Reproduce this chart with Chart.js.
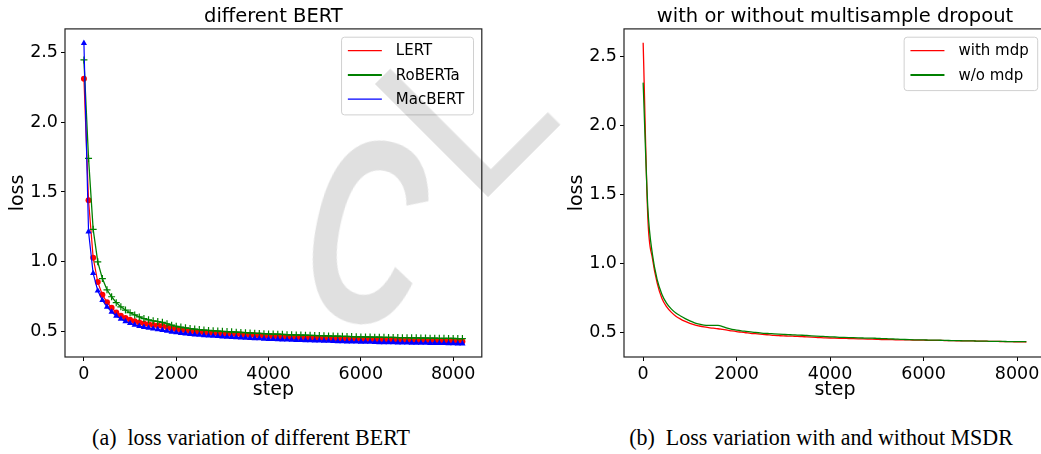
<!DOCTYPE html>
<html>
<head>
<meta charset="utf-8">
<script src="https://cdn.jsdelivr.net/npm/chart.js@4.4.1/dist/chart.umd.min.js"></script>
<style>
  html, body { margin: 0; padding: 0; background: #fff; overflow: hidden; }
  body { width: 1041px; height: 454px; position: relative; }
  canvas { position: absolute; top: 0; }
  #chartA { left: 0; }
  #chartB { left: 559px; }
  .caption { position: absolute; top: 424px; font: 24px "Liberation Serif", serif; color: #000; white-space: pre;
             transform: translateX(-50%) scaleX(0.915); }
  .wm { position: absolute; font-family: "Liberation Sans", sans-serif; line-height: 1; color: #e0e0e0;
        white-space: pre; mix-blend-mode: multiply; pointer-events: none; }
  #wmC { left: 368px; top: 232px; font-size: 262px; font-weight: bold; transform: translate(-50%, -50%) rotate(12deg) scaleX(0.62); }
  #wmL { left: 336px; top: 72px; font-size: 232px; transform-origin: 0 0; transform: rotate(-45deg); }
</style>
</head>
<body>
<canvas id="chartA" width="487" height="410"></canvas>
<canvas id="chartB" width="487" height="410"></canvas>
<div class="caption" style="left:251px">(a)  loss variation of different BERT</div>
<div class="caption" style="left:821px">(b)  Loss variation with and without MSDR</div>
<div class="wm" id="wmC">C</div>
<div class="wm" id="wmL">L</div>
<script>
// training steps (logged every 100 steps)
const steps = [
  0, 100, 200, 300, 400, 500, 600, 700, 800, 900,
  1000, 1100, 1200, 1300, 1400, 1500, 1600, 1700, 1800, 1900,
  2000, 2100, 2200, 2300, 2400, 2500, 2600, 2700, 2800, 2900,
  3000, 3100, 3200, 3300, 3400, 3500, 3600, 3700, 3800, 3900,
  4000, 4100, 4200, 4300, 4400, 4500, 4600, 4700, 4800, 4900,
  5000, 5100, 5200, 5300, 5400, 5500, 5600, 5700, 5800, 5900,
  6000, 6100, 6200, 6300, 6400, 6500, 6600, 6700, 6800, 6900,
  7000, 7100, 7200, 7300, 7400, 7500, 7600, 7700, 7800, 7900,
  8000, 8100, 8200
];

// (a) different BERT
const lert = [
  2.31, 1.44, 1.03, 0.855, 0.765, 0.71, 0.672, 0.638, 0.615, 0.598,
  0.585, 0.575, 0.566, 0.559, 0.553, 0.548, 0.545, 0.540, 0.532, 0.523,
  0.517, 0.512, 0.508, 0.504, 0.500, 0.497, 0.495, 0.492, 0.490, 0.488,
  0.486, 0.484, 0.483, 0.481, 0.480, 0.478, 0.476, 0.474, 0.472, 0.470,
  0.468, 0.466, 0.464, 0.463, 0.461, 0.460, 0.458, 0.457, 0.456, 0.455,
  0.453, 0.452, 0.451, 0.450, 0.449, 0.448, 0.447, 0.446, 0.445, 0.444,
  0.443, 0.442, 0.442, 0.441, 0.440, 0.440, 0.439, 0.438, 0.438, 0.437,
  0.437, 0.436, 0.436, 0.435, 0.435, 0.434, 0.434, 0.433, 0.433, 0.432,
  0.432, 0.431, 0.430
];
const roberta = [
  2.445, 1.74, 1.233, 1.00, 0.88, 0.80, 0.75, 0.708, 0.678, 0.655,
  0.636, 0.620, 0.606, 0.594, 0.585, 0.578, 0.573, 0.567, 0.557, 0.547,
  0.539, 0.533, 0.528, 0.523, 0.519, 0.515, 0.512, 0.509, 0.507, 0.505,
  0.503, 0.501, 0.499, 0.497, 0.495, 0.493, 0.491, 0.489, 0.488, 0.486,
  0.484, 0.483, 0.482, 0.481, 0.479, 0.478, 0.477, 0.476, 0.475, 0.474,
  0.473, 0.472, 0.471, 0.470, 0.469, 0.468, 0.467, 0.466, 0.465, 0.464,
  0.463, 0.463, 0.462, 0.461, 0.461, 0.460, 0.459, 0.459, 0.458, 0.457,
  0.457, 0.456, 0.456, 0.455, 0.455, 0.454, 0.454, 0.453, 0.453, 0.452,
  0.452, 0.451, 0.451
];
const macbert = [
  2.565, 1.216, 0.918, 0.793, 0.725, 0.678, 0.642, 0.613, 0.592, 0.574,
  0.560, 0.549, 0.540, 0.533, 0.527, 0.521, 0.516, 0.511, 0.505, 0.499,
  0.494, 0.490, 0.486, 0.482, 0.479, 0.476, 0.473, 0.471, 0.469, 0.467,
  0.465, 0.463, 0.461, 0.459, 0.458, 0.456, 0.454, 0.452, 0.451, 0.449,
  0.447, 0.446, 0.445, 0.443, 0.442, 0.441, 0.440, 0.439, 0.438, 0.437,
  0.436, 0.435, 0.434, 0.433, 0.432, 0.431, 0.430, 0.429, 0.429, 0.428,
  0.427, 0.426, 0.426, 0.425, 0.424, 0.424, 0.423, 0.423, 0.422, 0.421,
  0.421, 0.420, 0.420, 0.419, 0.419, 0.418, 0.418, 0.417, 0.417, 0.416,
  0.416, 0.415, 0.415
];

// (b) with / without multisample dropout
const withMdp = [
  2.60, 1.33, 1.03, 0.855, 0.745, 0.685, 0.645, 0.615, 0.594, 0.577,
  0.563, 0.552, 0.544, 0.537, 0.532, 0.528, 0.524, 0.519, 0.514, 0.508,
  0.503, 0.499, 0.495, 0.491, 0.488, 0.485, 0.482, 0.479, 0.476, 0.474,
  0.472, 0.471, 0.470, 0.469, 0.467, 0.465, 0.463, 0.461, 0.459, 0.458,
  0.457, 0.456, 0.455, 0.454, 0.453, 0.452, 0.451, 0.450, 0.449, 0.448,
  0.447, 0.446, 0.446, 0.445, 0.444, 0.444, 0.443, 0.443, 0.442, 0.441,
  0.441, 0.440, 0.440, 0.439, 0.439, 0.438, 0.438, 0.437, 0.437, 0.436,
  0.436, 0.435, 0.434, 0.434, 0.433, 0.433, 0.432, 0.431, 0.431, 0.430,
  0.429, 0.429, 0.428
];
const withoutMdp = [
  2.31, 1.40, 1.06, 0.88, 0.775, 0.71, 0.668, 0.638, 0.617, 0.598,
  0.581, 0.567, 0.557, 0.551, 0.549, 0.549, 0.548, 0.540, 0.528, 0.520,
  0.514, 0.509, 0.505, 0.501, 0.497, 0.494, 0.491, 0.489, 0.487, 0.485,
  0.483, 0.481, 0.480, 0.478, 0.477, 0.475, 0.473, 0.471, 0.469, 0.467,
  0.465, 0.464, 0.462, 0.461, 0.460, 0.459, 0.458, 0.457, 0.456, 0.456,
  0.454, 0.453, 0.452, 0.450, 0.449, 0.447, 0.446, 0.445, 0.444, 0.443,
  0.443, 0.442, 0.441, 0.441, 0.440, 0.439, 0.438, 0.438, 0.437, 0.436,
  0.436, 0.435, 0.434, 0.434, 0.433, 0.433, 0.432, 0.432, 0.431, 0.431,
  0.430, 0.430, 0.430
];

const xTicks = [0, 2000, 4000, 6000, 8000];
const yTicks = [0.5, 1.0, 1.5, 2.0, 2.5];

Chart.defaults.font.family = '"DejaVu Sans", sans-serif';
Chart.defaults.color = '#000';

const toPoints = values => steps.map((s, i) => ({ x: s, y: values[i] }));

// matplotlib-like box around the axes
const framePlugin = {
  id: 'frame',
  afterDatasetsDraw(chart) {
    const { ctx, chartArea: a } = chart;
    ctx.save();
    ctx.strokeStyle = '#222';
    ctx.lineWidth = 1.2;
    ctx.strokeRect(a.left, a.top, a.right - a.left, a.bottom - a.top);
    ctx.restore();
  }
};

// legend box in the upper right corner of the axes
const legendPlugin = {
  id: 'insideLegend',
  afterDatasetsDraw(chart) {
    const { ctx, chartArea } = chart;
    const sets = chart.data.datasets;
    ctx.save();
    ctx.font = '15px "DejaVu Sans"';
    const textW = Math.max(...sets.map(d => ctx.measureText(d.label).width));
    const w = 54.3 + textW + 9;
    const h = 13.4 + 24.3 * (sets.length - 1) + 15.7;
    const x = chartArea.right - 8.3 - w;
    const y = chartArea.top + 8.3;
    ctx.beginPath();
    ctx.roundRect(x, y, w, h, 3);
    ctx.fillStyle = 'rgba(255,255,255,0.8)';
    ctx.fill();
    ctx.strokeStyle = '#d0d0d0';
    ctx.lineWidth = 1;
    ctx.stroke();
    sets.forEach((d, i) => {
      const cy = y + 13.4 + 24.3 * i;
      ctx.beginPath();
      ctx.moveTo(x + 6.3, cy);
      ctx.lineTo(x + 40.3, cy);
      ctx.strokeStyle = d.borderColor;
      ctx.lineWidth = d.legendWidth;
      ctx.stroke();
      ctx.fillStyle = '#000';
      ctx.textBaseline = 'middle';
      ctx.fillText(d.label, x + 54.3, cy + 1);
    });
    ctx.restore();
  }
};

function buildOptions(title, yMin, yMax) {
  return {
    responsive: false,
    animation: false,
    devicePixelRatio: 1,
    layout: { padding: 0 },
    plugins: {
      legend: { display: false },
      tooltip: { enabled: false },
      title: {
        display: true,
        text: title,
        fullSize: false,
        color: '#000',
        font: { size: 19.5, weight: 'normal' },
        padding: { top: 5.5, bottom: 0 }
      }
    },
    scales: {
      x: {
        type: 'linear',
        min: -410,
        max: 8620,
        afterFit: s => { s.height = 53; },
        afterBuildTicks: s => { s.ticks = xTicks.map(v => ({ value: v })); },
        border: { display: false },
        grid: { display: true, drawOnChartArea: false, drawTicks: true, tickLength: 4, tickColor: '#000' },
        ticks: { autoSkip: false, maxRotation: 0, padding: 3, font: { size: 17.5 }, color: '#000', callback: v => String(v) },
        title: { display: true, text: 'step', font: { size: 19 }, color: '#000', padding: { top: 0, bottom: 9 } }
      },
      y: {
        type: 'linear',
        min: yMin,
        max: yMax,
        afterFit: s => { s.width = 65; },
        afterBuildTicks: s => { s.ticks = yTicks.map(v => ({ value: v })); },
        border: { display: false },
        grid: { display: true, drawOnChartArea: false, drawTicks: true, tickLength: 4, tickColor: '#000' },
        ticks: { padding: 3, font: { size: 17.5 }, color: '#000', callback: v => v.toFixed(1) },
        title: { display: true, text: 'loss', font: { size: 19 }, color: '#000', padding: { top: 6.5, bottom: 0 } }
      }
    }
  };
}

new Chart(document.getElementById('chartA'), {
  type: 'line',
  data: {
    datasets: [
      {
        label: 'LERT',
        data: toPoints(lert),
        borderColor: '#ff0000',
        backgroundColor: '#ff0000',
        borderWidth: 1.2,
        legendWidth: 1.2,
        pointStyle: 'circle',
        pointRadius: 3,
        pointBorderWidth: 0,
        order: 3
      },
      {
        label: 'RoBERTa',
        data: toPoints(roberta),
        borderColor: '#008000',
        backgroundColor: '#008000',
        borderWidth: 1.3,
        legendWidth: 2,
        pointStyle: 'cross',
        pointRadius: 3.5,
        pointBorderWidth: 1.2,
        pointBorderColor: '#008000',
        order: 2
      },
      {
        label: 'MacBERT',
        data: toPoints(macbert),
        borderColor: '#0000ff',
        backgroundColor: '#0000ff',
        borderWidth: 1.2,
        legendWidth: 1.2,
        pointStyle: 'triangle',
        pointRadius: 3.6,
        pointBorderWidth: 0,
        order: 1
      }
    ]
  },
  options: buildOptions('different BERT', 0.319, 2.667),
  plugins: [framePlugin, legendPlugin]
});

new Chart(document.getElementById('chartB'), {
  type: 'line',
  data: {
    datasets: [
      {
        label: 'with mdp',
        data: toPoints(withMdp),
        borderColor: '#ff0000',
        borderWidth: 1.3,
        legendWidth: 1.3,
        pointRadius: 0,
        cubicInterpolationMode: 'monotone',
        order: 2
      },
      {
        label: 'w/o mdp',
        data: toPoints(withoutMdp),
        borderColor: '#008000',
        borderWidth: 1.3,
        legendWidth: 2,
        pointRadius: 0,
        cubicInterpolationMode: 'monotone',
        order: 1
      }
    ]
  },
  options: buildOptions('with or without multisample dropout', 0.319, 2.70),
  plugins: [framePlugin, legendPlugin]
});
</script>
</body>
</html>
